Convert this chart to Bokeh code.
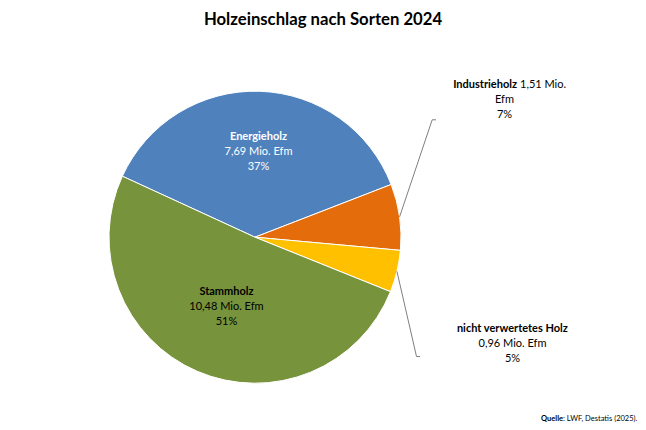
import math
from bokeh.plotting import figure
from bokeh.models import Range1d, ColumnDataSource
from bokeh.embed import file_html
from bokeh.resources import INLINE
from bokeh.core.properties import value

# ---- data ----
categories = ["Energieholz", "Industrieholz", "nicht verwertetes Holz", "Stammholz"]
values = [7.69, 1.51, 0.96, 10.48]
amount_labels = ["7,69 Mio. Efm", "1,51 Mio. Efm", "0,96 Mio. Efm", "10,48 Mio. Efm"]
percent_labels = ["37%", "7%", "5%", "51%"]
colors = ["#4F81BD", "#E46C0A", "#FFC000", "#77933C"]
title_text = "Holzeinschlag nach Sorten 2024"
source_bold = "Quelle"
source_rest = ": LWF, Destatis (2025)."

FONT = "Lato"
W, H = 646, 430
PAGE_H = 430


def Y(py):
    return PAGE_H - py


# ---- geometry (layout) ----
cx, cy, R = 254.5, Y(236.7), 146.0
start_deg = 155.3

total = sum(values)
starts, ends, mids = [], [], []
a = start_deg
for v in values:
    sweep = v / total * 360.0
    b = a - sweep
    starts.append(math.radians(b))
    ends.append(math.radians(a))
    mids.append(math.radians((a + b) / 2))
    a = b

p = figure(width=W, height=H, x_range=Range1d(0, W), y_range=Range1d(0, H),
           output_backend="svg", toolbar_location=None, min_border=0,
           x_axis_type=None, y_axis_type=None)
p.grid.visible = False
p.outline_line_color = None
p.background_fill_color = "white"
p.border_fill_color = "white"

src = ColumnDataSource(dict(cat=categories, val=values, start=starts, end=ends, color=colors))
p.wedge(x=cx, y=cy, radius=R, start_angle="start", end_angle="end", direction="anticlock",
        fill_color="color", line_color="white", line_width=1, source=src)

# ---- title ----
p.text(x=[322.5], y=[Y(18)], text=[title_text], text_font=value(FONT), text_font_style="bold",
       text_font_size="16.7px", text_align="center", text_baseline="middle", text_color="black")

LS = 15  # line spacing
FS = "11px"


def block(x, y0, lines, color, bold_first=True):
    for i, t in enumerate(lines):
        p.text(x=[x], y=[Y(y0 + i * LS)], text=[t], text_font=value(FONT),
               text_font_style="bold" if (i == 0 and bold_first) else "normal",
               text_font_size=FS, text_align="center", text_baseline="middle", text_color=color)


# Energieholz (inside)
block(258, 135, [categories[0], amount_labels[0], percent_labels[0]], "white")
# Stammholz (inside)
block(226, 290, [categories[3], amount_labels[3], percent_labels[3]], "black")

# Industrieholz (outside, first line mixed)
ind_amount = amount_labels[1].split(" ")
p.text(x=[516.5], y=[Y(83)], text=[categories[1]], text_font=value(FONT), text_font_style="bold",
       text_font_size=FS, text_align="right", text_baseline="middle", text_color="black")
p.text(x=[519.5], y=[Y(83)], text=[" ".join(ind_amount[:2])], text_font=value(FONT),
       text_font_size=FS, text_align="left", text_baseline="middle", text_color="black")
p.text(x=[504, 504], y=[Y(98), Y(113)], text=[ind_amount[2], percent_labels[1]], text_font=value(FONT),
       text_font_size=FS, text_align="center", text_baseline="middle", text_color="black")

# nicht verwertetes Holz (outside)
block(512, 327, [categories[2], amount_labels[2], percent_labels[2]], "black")

# ---- leader lines ----
lab_pts = {1: ((431.7, Y(119.3)), (435.5, Y(119.3))), 2: ((416, Y(356)), (419.5, Y(356)))}
for k, (p1, p2) in lab_pts.items():
    sx = cx + R * math.cos(mids[k])
    sy = cy + R * math.sin(mids[k])
    p.line(x=[sx, p1[0], p2[0]], y=[sy, p1[1], p2[1]], line_color="#7F7F7F", line_width=1)

# ---- source ----
p.text(x=[562.5], y=[Y(418)], text=[source_bold], text_font=value(FONT), text_font_style="bold",
       text_font_size="7.5px", text_align="right", text_baseline="middle", text_color="black")
p.text(x=[562.5], y=[Y(418)], text=[source_rest], text_font=value(FONT),
       text_font_size="7.5px", text_align="left", text_baseline="middle", text_color="black")

open("out.html", "w").write(file_html(p, INLINE))
